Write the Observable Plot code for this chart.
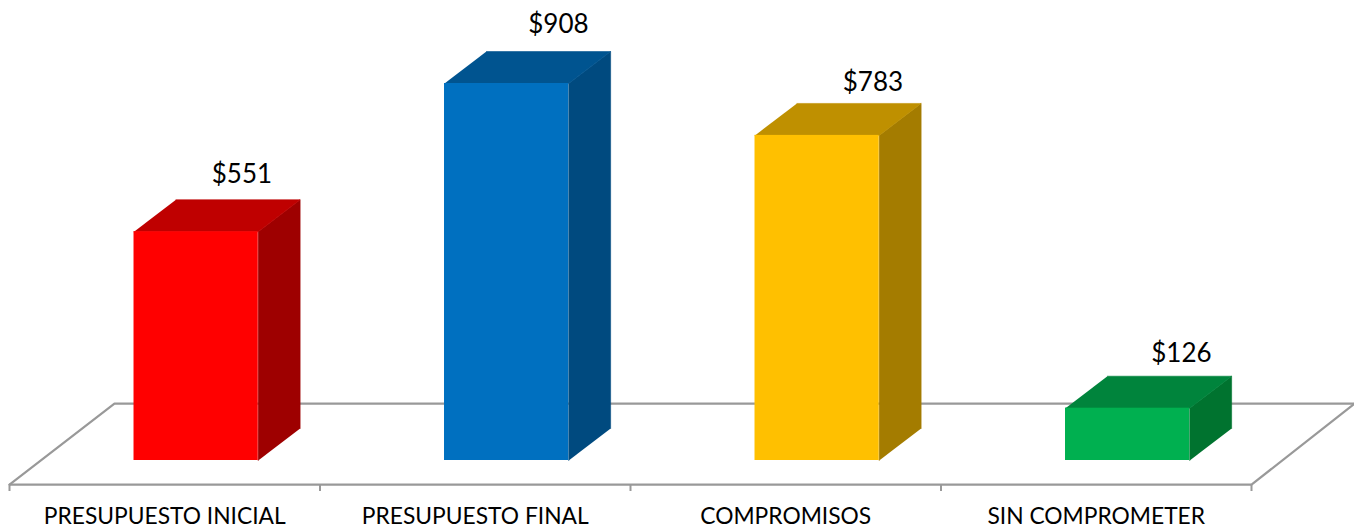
<!DOCTYPE html>
<html>
<head>
<meta charset="utf-8">
<script src="https://cdn.jsdelivr.net/npm/d3@7"></script>
<script src="https://cdn.jsdelivr.net/npm/@observablehq/plot@0.6"></script>
<style>
html,body{margin:0;padding:0;background:#fff;}
svg{display:block;}
</style>
</head>
<body>
<div id="chart"></div>
<script>
const categories = ["PRESUPUESTO INICIAL", "PRESUPUESTO FINAL", "COMPROMISOS", "SIN COMPROMETER"];
const values = [551, 908, 783, 126];
const frontColors = ["#FF0000", "#0070C0", "#FFC000", "#00B050"];
const topColors = ["#BF0000", "#005490", "#BF9000", "#00843C"];
const sideColors = ["#9E0000", "#004A7F", "#A47C00", "#00732F"];
const labelNudge = [[-7, 2], [-1, 0], [3, 6], [1, 4]];

// Bar layout in scale units
const barStart = 0.401, barEnd = 0.801, depthX = 0.135, depthY = 77;
const floorFront = -58, floorBack = 137, floorBackLeft = 0.338, floorBackRight = 4.332;

const rows = categories.map((c, i) => ({c, i, v: values[i], x1: i + barStart, x2: i + barEnd}));
const topFaces = rows.flatMap(r => [
  [r.x1, r.v], [r.x2, r.v], [r.x2 + depthX, r.v + depthY], [r.x1 + depthX, r.v + depthY]
].map(([x, y]) => ({x, y, z: r.c, color: topColors[r.i]})));
const sideFaces = rows.flatMap(r => [
  [r.x2, 0], [r.x2, r.v], [r.x2 + depthX, r.v + depthY], [r.x2 + depthX, depthY]
].map(([x, y]) => ({x, y, z: r.c, color: sideColors[r.i]})));
const floorLine = [
  {x: 0, y: floorFront}, {x: floorBackLeft, y: floorBack}, {x: floorBackRight, y: floorBack}
];
const floorRight = [{x: 4, y: floorFront}, {x: floorBackRight, y: floorBack}];

const font = "Lato, Carlito, Calibri, sans-serif";
const chart = Plot.plot({
  width: 1354, height: 529,
  marginTop: 0, marginLeft: 0, marginRight: 0, marginBottom: 45,
  style: {fontFamily: font, background: "#fff", color: "#000"},
  x: {type: "linear", domain: [0, 4], range: [9, 1251], axis: null},
  y: {type: "linear", domain: [0, 908], range: [460, 83], axis: null},
  color: {type: "identity"},
  marks: [
    Plot.line(floorLine, {x: "x", y: "y", stroke: "#999999", strokeWidth: 2.2}),
    Plot.line(floorRight, {x: "x", y: "y", stroke: "#999999", strokeWidth: 2.2}),
    Plot.ruleY([floorFront], {x1: 0, x2: 4, stroke: "#999999", strokeWidth: 2.2}),
    Plot.axisX({ticks: [0, 1, 2, 3, 4], tickSize: 7, tickFormat: () => "", stroke: "#999999", strokeWidth: 2}),
    Plot.axisX({
      ticks: categories.map((c, i) => i + 0.5),
      tickFormat: d => categories[d - 0.5],
      tickSize: 0, tickPadding: 32, fontSize: 22.8, fill: "#000", lineAnchor: "middle", label: null
    }),
    Plot.line(sideFaces, {x: "x", y: "y", z: "z", fill: "color", stroke: "color", strokeWidth: 0.6}),
    Plot.line(topFaces, {x: "x", y: "y", z: "z", fill: "color", stroke: "color", strokeWidth: 0.6}),
    Plot.rect(rows, {x1: "x1", x2: "x2", y1: 0, y2: "v", fill: (d) => frontColors[d.i]}),
    ...rows.map(r => Plot.text([r], {
      x: d => d.x1 + 0.37, y: "v", text: d => "$" + d.v,
      dx: labelNudge[r.i][0], dy: -59 + labelNudge[r.i][1],
      fontSize: 26, fill: "#000"
    }))
  ]
});
document.getElementById("chart").appendChild(chart);
</script>
</body>
</html>
